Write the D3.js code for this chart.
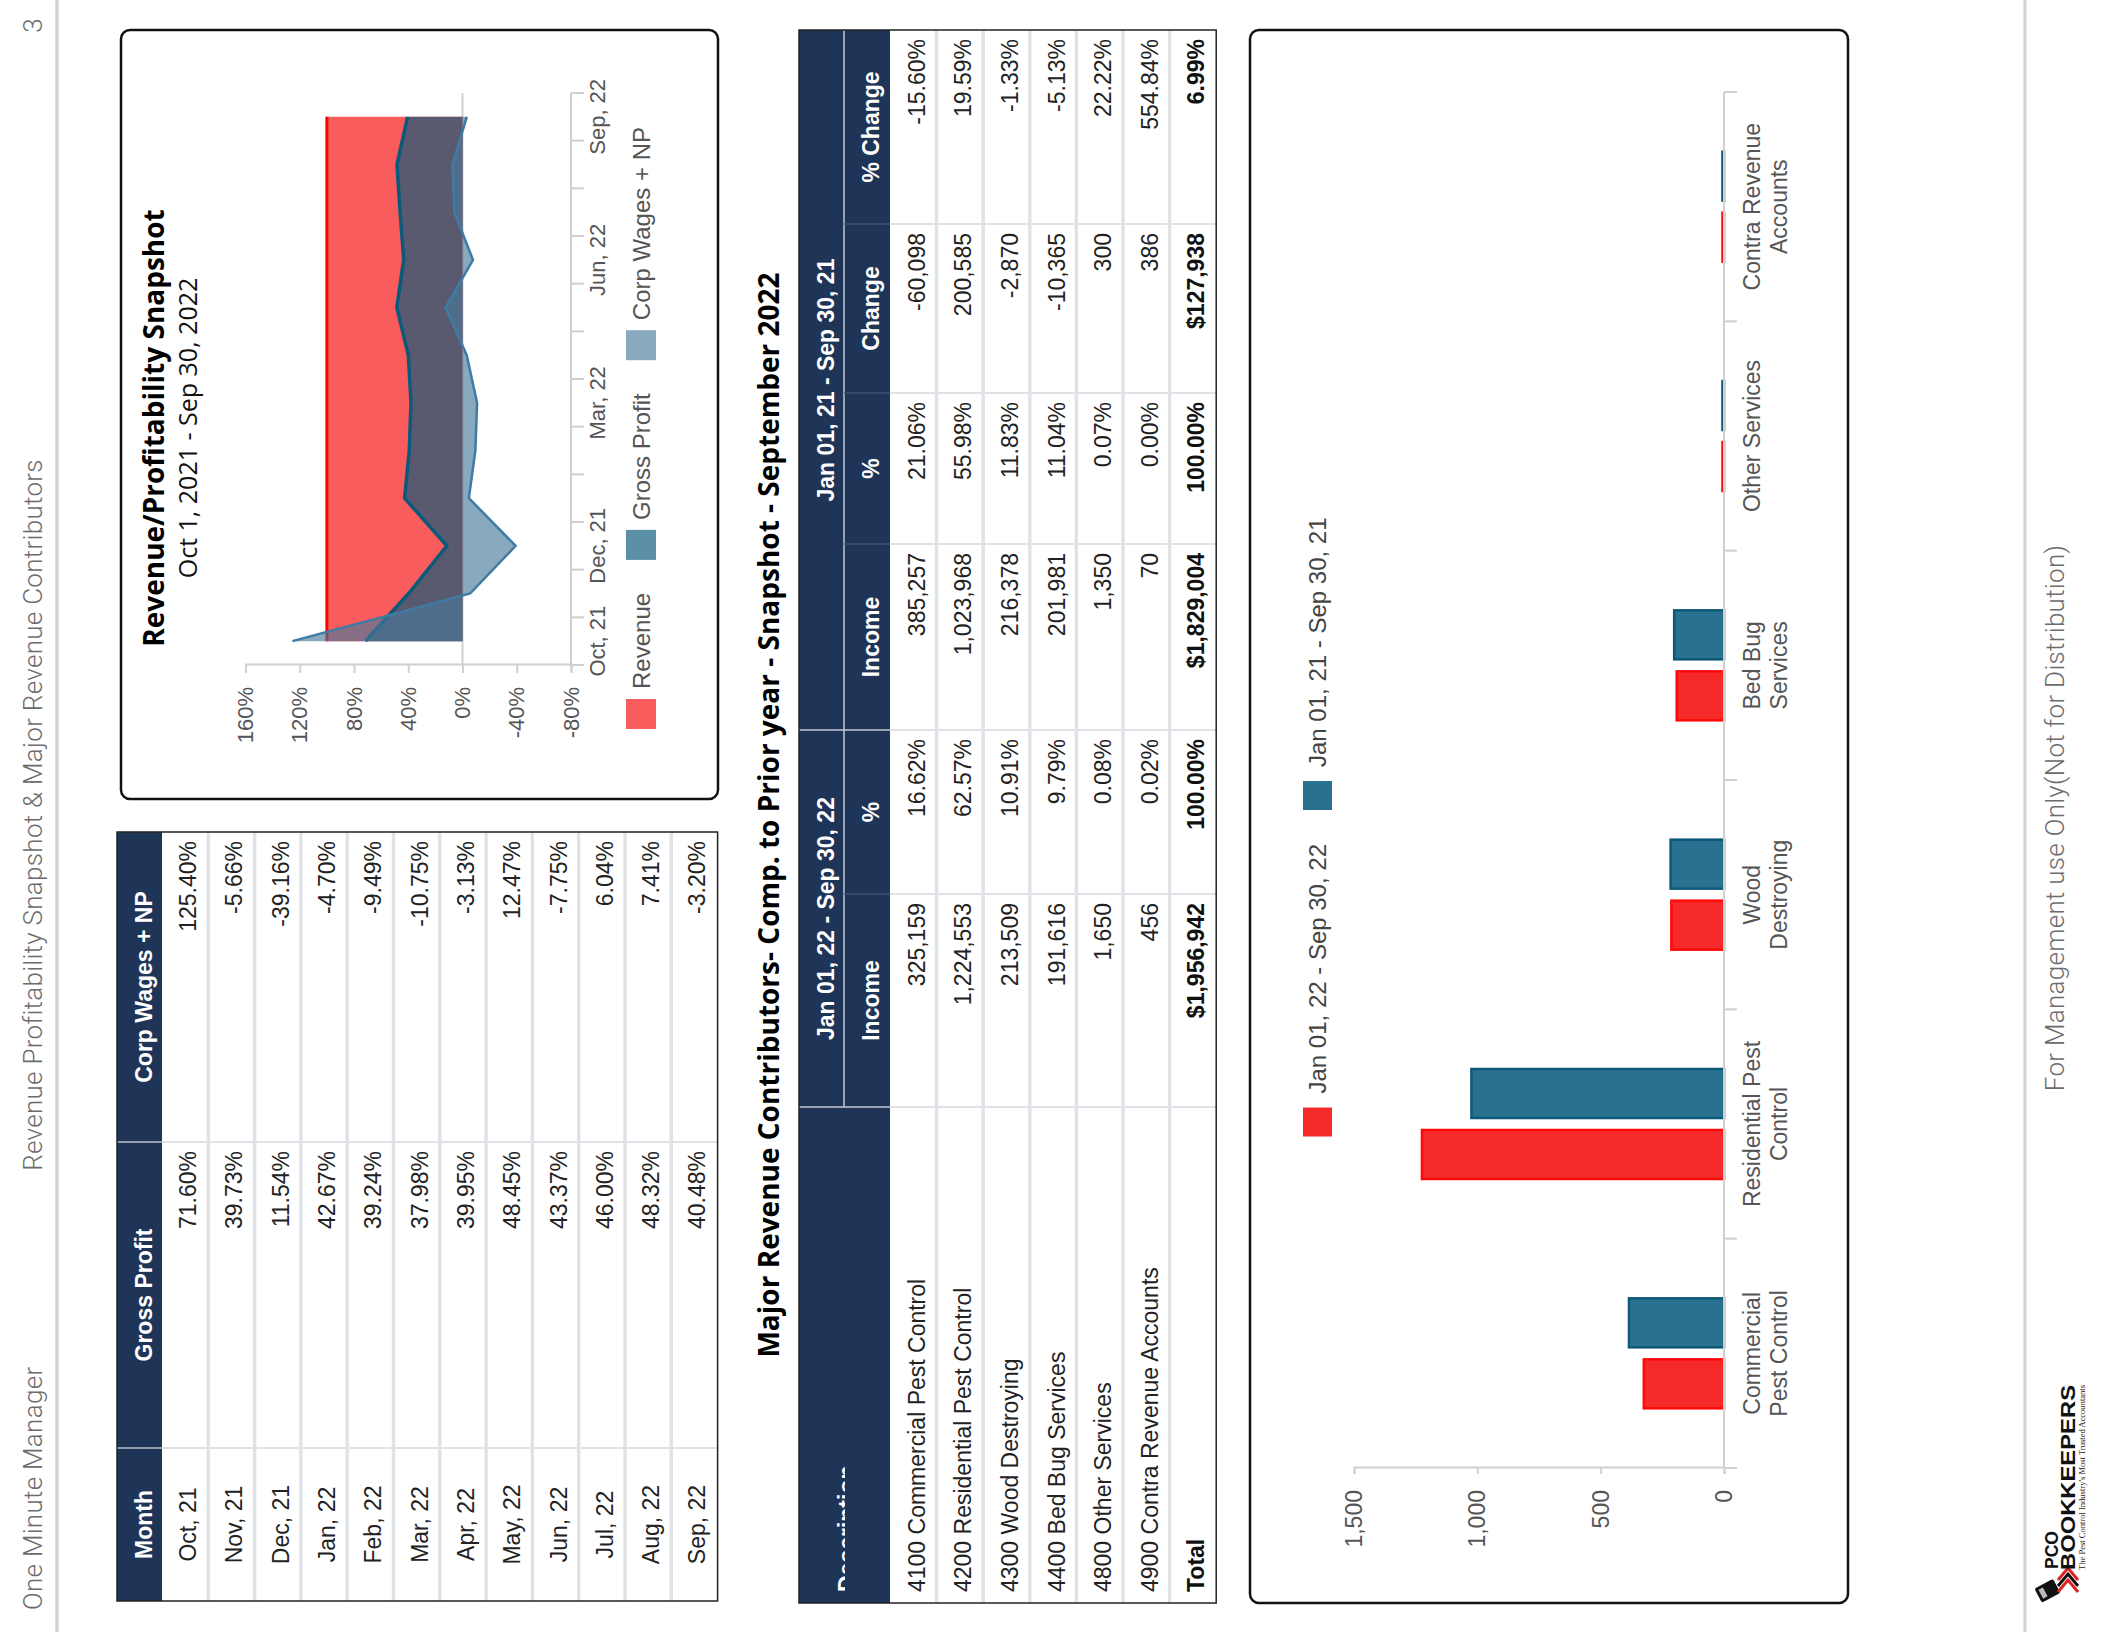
<!DOCTYPE html>
<html>
<head>
<meta charset="utf-8">
<script src="https://cdnjs.cloudflare.com/ajax/libs/d3/7.8.5/d3.min.js"></script>
<style>
  html, body { margin: 0; padding: 0; background: #fff; }
  svg { display: block; }
</style>
</head>
<body>
<svg id="page" width="2112" height="1632"></svg>
<script>
// ---- monthly snapshot (table + area chart) ----
var months = ["Oct, 21","Nov, 21","Dec, 21","Jan, 22","Feb, 22","Mar, 22","Apr, 22","May, 22","Jun, 22","Jul, 22","Aug, 22","Sep, 22"];
var revenuePct = [100,100,100,100,100,100,100,100,100,100,100,100];
var grossProfitPct = [71.60,39.73,11.54,42.67,39.24,37.98,39.95,48.45,43.37,46.00,48.32,40.48];
var corpWagesPct = [125.40,-5.66,-39.16,-4.70,-9.49,-10.75,-3.13,12.47,-7.75,6.04,7.41,-3.20];
var monthLabelsShown = ["Oct, 21","Dec, 21","Mar, 22","Jun, 22","Sep, 22"];
var pctTicks = [-80,-40,0,40,80,120,160];
var monthHeaders = ["Month","Gross Profit","Corp Wages + NP"];
var seriesNames = ["Revenue","Gross Profit","Corp Wages + NP"];

// ---- major revenue contributors ----
var accounts = ["4100 Commercial Pest Control","4200 Residential Pest Control","4300 Wood Destroying","4400 Bed Bug Services","4800 Other Services","4900 Contra Revenue Accounts"];
var shortNames = [["Commercial","Pest Control"],["Residential Pest","Control"],["Wood","Destroying"],["Bed Bug","Services"],["Other Services"],["Contra Revenue","Accounts"]];
var income22 = [325159,1224553,213509,191616,1650,456];
var pct22 = [16.62,62.57,10.91,9.79,0.08,0.02];
var income21 = [385257,1023968,216378,201981,1350,70];
var pct21 = [21.06,55.98,11.83,11.04,0.07,0.00];
var change = [-60098,200585,-2870,-10365,300,386];
var pctChange = [-15.60,19.59,-1.33,-5.13,22.22,554.84];
var totalIncome22 = 1956942, totalPct22 = 100, totalIncome21 = 1829004, totalPct21 = 100, totalChange = 127938, totalPctChange = 6.99;
var periods = ["Jan 01, 22 - Sep 30, 22","Jan 01, 21 - Sep 30, 21"];
var subHeaders = ["Income","%","Income","%","Change","% Change"];
var barTicks = [0,500000,1000000,1500000];

// fonts / colours
var SANS = "'Liberation Sans', Arial, sans-serif";
var TITLE = "'Open Sans', 'Liberation Sans', sans-serif";
var LIGHT = "Roboto, 'Open Sans', sans-serif";
var NAVY = "#1f3557";

var loc = d3.formatLocale({decimal: ".", thousands: ",", grouping: [3], currency: ["$", ""], minus: "-"});
var fmtInt = loc.format(",");
var fmtUSD = loc.format("$,");
var fmtPct = function(v) { return loc.format(".2f")(v) + "%"; };

// the report page is laid out upright (1632 x 2112) and turned a quarter left
var page = d3.select("#page").append("g")
    .attr("transform", "translate(0,1632) rotate(-90)");

// ---------- page header / footer ----------
page.append("line").attr("x1", 0).attr("x2", 1632).attr("y1", 57).attr("y2", 57)
    .attr("stroke", "#d3d3d3").attr("stroke-width", 3.5);
page.append("line").attr("x1", 0).attr("x2", 1632).attr("y1", 2025).attr("y2", 2025)
    .attr("stroke", "#d3d3d3").attr("stroke-width", 3);

function lightText(x, y, s, anchor) {
  page.append("text").attr("x", x).attr("y", y).attr("text-anchor", anchor)
    .style("font-family", LIGHT).style("font-weight", 300).style("font-size", "26px")
    .style("letter-spacing", "0.3px").attr("fill", "#6c6c6c").text(s);
}
lightText(22, 42, "One Minute Manager", "start");
lightText(817, 42, "Revenue Profitability Snapshot & Major Revenue Contributors", "middle");
lightText(1614, 42, "3", "end");
lightText(814, 2064, "For Management use Only(Not for Distribution)", "middle");

// logo
var logo = page.append("g");
logo.append("rect").attr("x", 33).attr("y", 2037).attr("width", 16).attr("height", 21).attr("rx", 2)
    .attr("fill", "#111").attr("transform", "rotate(-28,41,2047)");
logo.append("rect").attr("x", 36).attr("y", 2040).attr("width", 10).attr("height", 5)
    .attr("fill", "#bbb").attr("transform", "rotate(-28,41,2047)");
[0, 1, 2].forEach(function(k) {
  logo.append("path")
    .attr("d", "M" + (40 + k * 6) + ",2058 L" + (52 + k * 6) + ",2068 L" + (40 + k * 6) + ",2078")
    .attr("fill", "none").attr("stroke", k === 1 ? "#111" : "#e32020").attr("stroke-width", 3);
});
logo.append("text").attr("x", 63).attr("y", 2058).attr("textLength", 38).attr("lengthAdjust", "spacingAndGlyphs")
    .style("font-family", SANS).style("font-weight", "bold").style("font-size", "19px").attr("fill", "#111").text("PCO");
logo.append("text").attr("x", 62).attr("y", 2075).attr("textLength", 185).attr("lengthAdjust", "spacingAndGlyphs")
    .style("font-family", SANS).style("font-weight", "bold").style("font-size", "20px").attr("fill", "#111").text("BOOKKEEPERS");
logo.append("text").attr("x", 62).attr("y", 2085).attr("textLength", 185).attr("lengthAdjust", "spacingAndGlyphs")
    .style("font-family", "'Liberation Serif', serif").style("font-size", "8px").attr("fill", "#222")
    .text("The Pest Control Industry's Most Trusted Accountants");

// ---------- generic table text ----------
function cellText(g, data, xf, yf, anchor, weight, color) {
  g.selectAll(null).data(data).join("text")
    .attr("x", xf).attr("y", yf).attr("text-anchor", anchor)
    .style("font-family", SANS).style("font-size", "23px").style("font-weight", weight)
    .attr("fill", color).text(function(d) { return d.v; });
}

// ---------- month table ----------
(function() {
  var g = page.append("g");
  var cols = [31, 184, 490, 800];
  var top = 117, headH = 45, rowH = 46.3;
  var bodyTop = top + headH, bottom = bodyTop + months.length * rowH;

  g.append("rect").attr("x", cols[0]).attr("y", top).attr("width", cols[3] - cols[0]).attr("height", headH).attr("fill", NAVY);
  g.selectAll(".hsep").data(cols.slice(1, 3)).join("line")
    .attr("x1", d => d).attr("x2", d => d).attr("y1", top).attr("y2", bodyTop)
    .attr("stroke", "#b9c1cc").attr("stroke-width", 1.5);
  g.selectAll(".csep").data(cols.slice(1, 3)).join("line")
    .attr("x1", d => d).attr("x2", d => d).attr("y1", bodyTop).attr("y2", bottom)
    .attr("stroke", "#dfe3e8").attr("stroke-width", 2);
  g.selectAll(".rsep").data(d3.range(1, months.length)).join("line")
    .attr("x1", cols[0]).attr("x2", cols[3]).attr("y1", d => bodyTop + d * rowH).attr("y2", d => bodyTop + d * rowH)
    .attr("stroke", "#dfe3e8").attr("stroke-width", 3.5);

  cellText(g, monthHeaders.map((h, i) => ({v: h, c: i})),
    d => (cols[d.c] + cols[d.c + 1]) / 2, top + headH / 2 + 12, "middle", "bold", "#fff");

  var cells = [];
  months.forEach(function(m, i) {
    cells.push({v: m, c: 0, r: i});
    cells.push({v: fmtPct(grossProfitPct[i]), c: 1, r: i});
    cells.push({v: fmtPct(corpWagesPct[i]), c: 2, r: i});
  });
  cellText(g, cells.filter(d => d.c === 0), d => (cols[0] + cols[1]) / 2,
    d => bodyTop + d.r * rowH + rowH / 2 + 11, "middle", "normal", "#222");
  cellText(g, cells.filter(d => d.c > 0), d => cols[d.c + 1] - 9,
    d => bodyTop + d.r * rowH + rowH / 2 + 11, "end", "normal", "#222");

  g.append("rect").attr("x", cols[0]).attr("y", top).attr("width", cols[3] - cols[0]).attr("height", bottom - top)
    .attr("fill", "none").attr("stroke", "#222").attr("stroke-width", 1.5);
})();

// ---------- area chart ----------
(function() {
  var g = page.append("g");
  g.append("rect").attr("x", 833).attr("y", 121).attr("width", 769).attr("height", 597).attr("rx", 9)
    .attr("fill", "none").attr("stroke", "#111").attr("stroke-width", 2.5);
  g.append("text").attr("x", 1204).attr("y", 164).attr("text-anchor", "middle")
    .style("font-family", TITLE).style("font-weight", "bold").style("font-size", "28px").attr("fill", "#000")
    .text("Revenue/Profitability Snapshot");
  g.append("text").attr("x", 1204).attr("y", 197).attr("text-anchor", "middle")
    .style("font-family", TITLE).style("font-size", "25px").attr("fill", "#111")
    .text("Oct 1, 2021 - Sep 30, 2022");

  var x = d3.scaleBand().domain(months).range([967, 1539]);
  var y = d3.scaleLinear().domain([-80, 160]).range([571, 245.5]);
  var cx = d => x(d) + x.bandwidth() / 2;

  // zero line
  g.append("line").attr("x1", 967).attr("x2", 1539).attr("y1", y(0)).attr("y2", y(0))
    .attr("stroke", "#d0d0d0").attr("stroke-width", 2);

  var series = [
    {vals: revenuePct, fill: "rgb(246,8,8)", op: 0.66, line: "#ff0000", lw: 3},
    {vals: grossProfitPct, fill: "rgb(10,90,122)", op: 0.67, line: "#0b5a7b", lw: 3.5},
    {vals: corpWagesPct, fill: "rgb(71,121,155)", op: 0.64, line: "#3f7ba3", lw: 2.5}
  ];
  var area = d3.area().x((d, i) => cx(months[i])).y0(y(0)).y1(d => y(d));
  var line = d3.line().x((d, i) => cx(months[i])).y(d => y(d));
  series.forEach(function(s) {
    g.append("path").attr("d", area(s.vals)).attr("fill", s.fill).attr("fill-opacity", s.op);
    g.append("path").attr("d", line(s.vals)).attr("fill", "none").attr("stroke", s.line)
      .attr("stroke-width", s.lw).attr("stroke-linejoin", "miter");
  });

  // value axis
  var ya = g.append("g").attr("transform", "translate(967,0)")
    .call(d3.axisLeft(y).tickValues(pctTicks).tickFormat(d => d + "%").tickSize(8).tickPadding(14));
  // month axis
  var xa = g.append("g").attr("transform", "translate(0,571)")
    .call(d3.axisBottom(x).tickValues(monthLabelsShown).tickSize(0).tickPadding(18));
  [ya, xa].forEach(function(a) {
    a.select(".domain").attr("stroke", "#d0d0d0").attr("stroke-width", 2);
    a.selectAll(".tick line").attr("stroke", "#d0d0d0").attr("stroke-width", 2);
    a.selectAll("text").style("font-family", SANS).style("font-size", "22px").attr("fill", "#555");
  });
  xa.select(".domain").attr("d", "M967,0H1539");
  g.selectAll(".mtick").data(months.map(m => x(m)).concat([x.range()[1]])).join("line")
    .attr("x1", d => d).attr("x2", d => d).attr("y1", 571).attr("y2", 584)
    .attr("stroke", "#d0d0d0").attr("stroke-width", 2);

  // legend
  var items = g.selectAll(".leg").data(series.map((s, i) => ({name: seriesNames[i], s: s}))).join("g");
  items.append("rect").attr("y", 626).attr("width", 30).attr("height", 30)
    .attr("fill", d => d.s.fill).attr("fill-opacity", d => d.s.op);
  items.append("text").attr("x", 40).attr("y", 650).text(d => d.name)
    .style("font-family", SANS).style("font-size", "24px").attr("fill", "#555");
  var widths = [];
  items.each(function() { widths.push(40 + this.querySelector("text").getComputedTextLength()); });
  var gap = 33, total = d3.sum(widths) + gap * (widths.length - 1), pos = 1204 - total / 2;
  items.attr("transform", function(d, i) { var t = "translate(" + pos + ",0)"; pos += widths[i] + gap; return t; });
})();

// ---------- revenue contributors table ----------
(function() {
  var g = page.append("g");
  g.append("text").attr("x", 817).attr("y", 779).attr("text-anchor", "middle")
    .style("font-family", TITLE).style("font-weight", "bold").style("font-size", "28px").attr("fill", "#000")
    .text("Major Revenue Contributors- Comp. to Prior year - Snapshot - September 2022");

  var cols = [29, 525, 738, 902, 1088, 1239, 1408, 1602];
  var top = 799, h1 = 45, h2 = 46, rowH = 46.6;
  var bodyTop = top + h1 + h2;
  var rows = accounts.map(function(a, i) {
    return [a, fmtInt(income22[i]), fmtPct(pct22[i]), fmtInt(income21[i]), fmtPct(pct21[i]), fmtInt(change[i]), fmtPct(pctChange[i])];
  });
  rows.push(["Total", fmtUSD(totalIncome22), fmtPct(totalPct22), fmtUSD(totalIncome21), fmtPct(totalPct21), fmtUSD(totalChange), fmtPct(totalPctChange)]);
  var bottom = bodyTop + rows.length * rowH;

  g.append("rect").attr("x", cols[0]).attr("y", top).attr("width", cols[7] - cols[0]).attr("height", h1 + h2).attr("fill", NAVY);
  // header grid
  g.append("line").attr("x1", cols[1]).attr("x2", cols[7]).attr("y1", top + h1).attr("y2", top + h1)
    .attr("stroke", "#c3c9d2").attr("stroke-width", 1.5);
  g.selectAll(".hg").data([cols[1], cols[3]]).join("line")
    .attr("x1", d => d).attr("x2", d => d).attr("y1", top).attr("y2", bodyTop)
    .attr("stroke", "#c3c9d2").attr("stroke-width", 1.5);
  g.selectAll(".hs").data([cols[2], cols[4], cols[5], cols[6]]).join("line")
    .attr("x1", d => d).attr("x2", d => d).attr("y1", top + h1).attr("y2", bodyTop)
    .attr("stroke", "#3a5274").attr("stroke-width", 1.5);
  // body grid
  g.selectAll(".bc").data(cols.slice(1, 7)).join("line")
    .attr("x1", d => d).attr("x2", d => d).attr("y1", bodyTop).attr("y2", bottom)
    .attr("stroke", "#dfe3e8").attr("stroke-width", 2);
  g.selectAll(".br").data(d3.range(1, rows.length)).join("line")
    .attr("x1", cols[0]).attr("x2", cols[7]).attr("y1", d => bodyTop + d * rowH).attr("y2", d => bodyTop + d * rowH)
    .attr("stroke", "#dfe3e8").attr("stroke-width", 3.5);

  // clipped "Description" header
  g.append("clipPath").attr("id", "descClip").append("rect")
    .attr("x", cols[0]).attr("y", top).attr("width", cols[1] - cols[0]).attr("height", 46);
  g.append("text").attr("x", 40).attr("y", 855).attr("clip-path", "url(#descClip)")
    .style("font-family", SANS).style("font-size", "23px").style("font-weight", "bold").attr("fill", "#fff")
    .text("Description");

  cellText(g, [{v: periods[0], a: 1, b: 3}, {v: periods[1], a: 3, b: 7}],
    d => (cols[d.a] + cols[d.b]) / 2, top + h1 / 2 + 12, "middle", "bold", "#fff");
  cellText(g, subHeaders.map((s, i) => ({v: s, c: i + 1})),
    d => (cols[d.c] + cols[d.c + 1]) / 2, top + h1 + h2 / 2 + 12, "middle", "bold", "#fff");

  var cells = [];
  rows.forEach(function(r, ri) {
    r.forEach(function(v, ci) { cells.push({v: v, c: ci, r: ri, bold: ri === rows.length - 1}); });
  });
  var yf = d => bodyTop + d.r * rowH + rowH / 2 + 11.5;
  cellText(g, cells.filter(d => d.c === 0 && !d.bold), 40, yf, "start", "normal", "#222");
  cellText(g, cells.filter(d => d.c === 0 && d.bold), 40, yf, "start", "bold", "#111");
  cellText(g, cells.filter(d => d.c > 0 && !d.bold), d => cols[d.c + 1] - 9, yf, "end", "normal", "#222");
  cellText(g, cells.filter(d => d.c > 0 && d.bold), d => cols[d.c + 1] - 9, yf, "end", "bold", "#111");

  g.append("rect").attr("x", cols[0]).attr("y", top).attr("width", cols[7] - cols[0]).attr("height", bottom - top)
    .attr("fill", "none").attr("stroke", "#222").attr("stroke-width", 1.5);
})();

// ---------- bar chart ----------
(function() {
  var g = page.append("g");
  g.append("rect").attr("x", 29).attr("y", 1250).attr("width", 1573).attr("height", 598).attr("rx", 9)
    .attr("fill", "none").attr("stroke", "#111").attr("stroke-width", 2.5);

  var cats = shortNames.map(d => d.join(" "));
  var x = d3.scaleBand().domain(cats).range([164, 1540]);
  var y = d3.scaleLinear().domain([0, 1500000]).range([1724, 1354]);
  var barW = 49, gap = 12;
  var colors = [{fill: "#f62a2a", stroke: "#ff0a0a"}, {fill: "#297190", stroke: "#0c5878"}];
  var bars = [];
  cats.forEach(function(c, i) {
    bars.push({c: c, v: income22[i], k: 0});
    bars.push({c: c, v: income21[i], k: 1});
  });
  // very small values still show as a thin line, as in the original
  var h = d => Math.max(y(0) - y(d.v), 1.5);
  g.selectAll(".bar").data(bars).join("rect")
    .attr("x", d => x(d.c) + x.bandwidth() / 2 + (d.k === 0 ? -gap / 2 - barW : gap / 2))
    .attr("y", d => y(0) - h(d)).attr("width", barW).attr("height", h)
    .attr("fill", d => colors[d.k].fill).attr("stroke", d => colors[d.k].stroke).attr("stroke-width", 2.5);

  var ya = g.append("g").attr("transform", "translate(164,0)")
    .call(d3.axisLeft(y).tickValues(barTicks).tickFormat(d => fmtInt(d / 1000)).tickSize(6).tickPadding(16));
  ya.select(".domain").attr("stroke", "#d0d0d0").attr("stroke-width", 2);
  ya.selectAll(".tick line").attr("stroke", "#d0d0d0").attr("stroke-width", 2);
  ya.selectAll("text").style("font-family", SANS).style("font-size", "23px").attr("fill", "#555");

  g.append("line").attr("x1", 164).attr("x2", 1540).attr("y1", 1724).attr("y2", 1724)
    .attr("stroke", "#d0d0d0").attr("stroke-width", 2);
  g.selectAll(".ct").data(cats.map(c => x(c)).concat([x.range()[1]])).join("line")
    .attr("x1", d => d).attr("x2", d => d).attr("y1", 1724).attr("y2", 1737)
    .attr("stroke", "#d0d0d0").attr("stroke-width", 2);

  var lab = g.selectAll(".cl").data(shortNames).join("text")
    .attr("text-anchor", "middle")
    .style("font-family", SANS).style("font-size", "23px").attr("fill", "#555");
  lab.selectAll("tspan").data((d, i) => d.map((s, j) => ({s: s, j: j, c: cats[i]}))).join("tspan")
    .attr("x", d => x(d.c) + x.bandwidth() / 2).attr("y", d => 1760 + d.j * 27).text(d => d.s);

  var items = g.selectAll(".leg").data(periods).join("g");
  items.append("rect").attr("y", 1303).attr("width", 29).attr("height", 29)
    .attr("fill", (d, i) => colors[i].fill);
  items.append("text").attr("x", 43).attr("y", 1326).text(d => d)
    .style("font-family", SANS).style("font-size", "24px").attr("fill", "#444");
  var widths = [];
  items.each(function() { widths.push(43 + this.querySelector("text").getComputedTextLength()); });
  var sp = 34, total = d3.sum(widths) + sp, pos = 805 - total / 2;
  items.attr("transform", function(d, i) { var t = "translate(" + pos + ",0)"; pos += widths[i] + sp; return t; });
})();
</script>
</body>
</html>
